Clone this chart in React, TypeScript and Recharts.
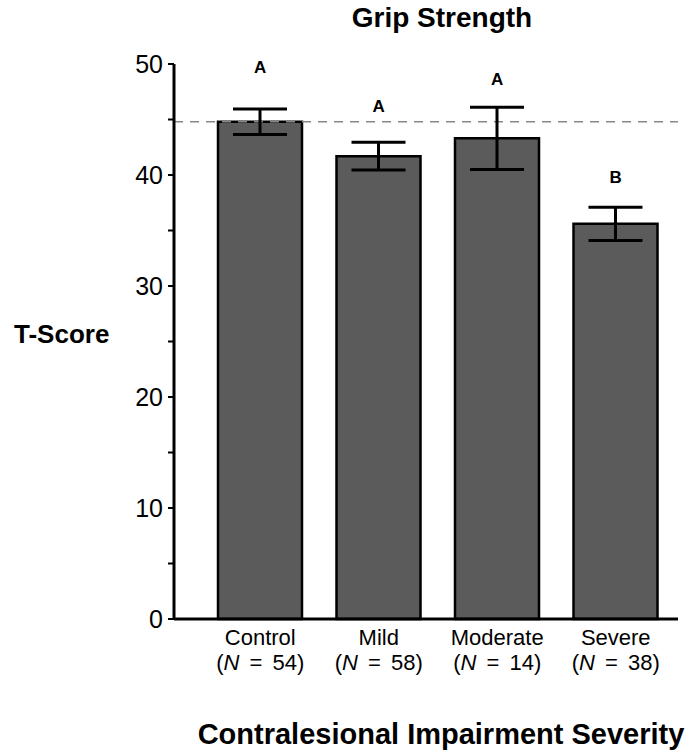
import { ComposedChart, Bar, Line, XAxis, YAxis, ErrorBar, ReferenceLine, LabelList, Label } from "recharts";

const categories = ["Control", "Mild", "Moderate", "Severe"];
const groupSizes = [54, 58, 14, 38];
const means = [44.8, 41.7, 43.3, 35.6];
const errors = [1.15, 1.25, 2.8, 1.5];
const letters = ["A", "A", "A", "B"];
const letterLevels = [49.7, 46.2, 48.6, 39.8];
const controlMean = 44.8;
const yTicks = [0, 5, 10, 15, 20, 25, 30, 35, 40, 45, 50];

const data = categories.map((name, i) => ({
  name,
  n: groupSizes[i],
  mean: means[i],
  err: errors[i],
  letter: letters[i],
  letterY: letterLevels[i],
}));

const FONT = '"Liberation Sans", Arial, Helvetica, sans-serif';

function GroupTick({ x, y, payload, index }: any) {
  return (
    <g fontFamily={FONT} fontSize={22} fill="#000">
      <text x={x} y={y + 18} textAnchor="middle">{payload.value}</text>
      <text x={x} y={y + 43} textAnchor="middle" wordSpacing={4}>
        (<tspan fontStyle="italic">N</tspan> = {groupSizes[index]})
      </text>
    </g>
  );
}

function LetterMark({ x, y, value }: any) {
  return (
    <text x={x} y={y} textAnchor="middle" dominantBaseline="central" fontFamily={FONT} fontWeight="bold" fontSize={17} fill="#000">
      {value}
    </text>
  );
}

export default function App() {
  return (
    <div style={{ position: "absolute", left: 0, top: 0, width: 689, height: 756, background: "#fff", fontFamily: FONT }}>
      <div style={{ position: "absolute", left: 0, width: 884, top: 3, textAlign: "center", fontSize: 28, fontWeight: "bold", lineHeight: "30px", color: "#000" }}>
        Grip Strength
      </div>
      <ComposedChart width={689} height={756} data={data} margin={{ top: 64, right: 11, bottom: 0, left: 0 }}>
        <XAxis
          dataKey="name"
          height={137}
          padding={{ left: 27, right: 3 }}
          axisLine={{ stroke: "#000", strokeWidth: 3 }}
          tickLine={false}
          tick={<GroupTick />}
          interval={0}
        >
          <Label value="Contralesional Impairment Severity" position="insideBottom" offset={12} dx={15} style={{ fontFamily: FONT, fontWeight: "bold", fontSize: 29, fill: "#000" }} />
        </XAxis>
        <YAxis
          width={174}
          domain={[0, 50]}
          ticks={yTicks}
          interval={0}
          tickSize={6}
          tickMargin={5}
          tickFormatter={(v: number) => (v % 10 === 0 ? String(v) : "")}
          axisLine={{ stroke: "#000", strokeWidth: 3 }}
          tickLine={{ stroke: "#000", strokeWidth: 2 }}
          tick={{ fill: "#000", fontSize: 25, fontFamily: FONT }}
        >
          <Label value="T-Score" position="insideLeft" offset={14} dy={-8} style={{ fontFamily: FONT, fontWeight: "bold", fontSize: 26, fill: "#000", textAnchor: "start" }} />
        </YAxis>
        <ReferenceLine y={controlMean} stroke="#888" strokeWidth={1.5} strokeDasharray="9 7" />
        <Bar dataKey="mean" barSize={84} fill="#5b5b5b" stroke="#000" strokeWidth={2.5} isAnimationActive={false}>
          <ErrorBar dataKey="err" width={27} stroke="#000" strokeWidth={3} direction="y" />
        </Bar>
        <Line dataKey="letterY" stroke="none" dot={false} activeDot={false} isAnimationActive={false}>
          <LabelList dataKey="letter" content={<LetterMark />} />
        </Line>
      </ComposedChart>
    </div>
  );
}
